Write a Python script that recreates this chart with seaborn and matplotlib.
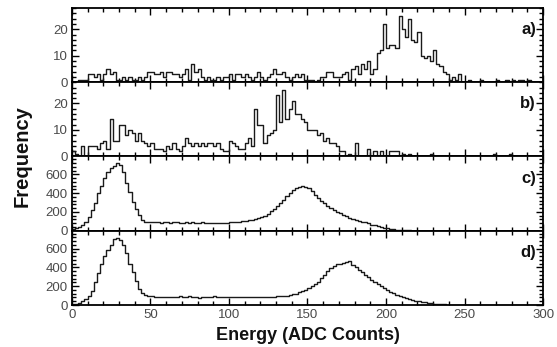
import numpy as np
import pandas as pd
import matplotlib
matplotlib.use("Agg")
import matplotlib.pyplot as plt
from matplotlib.ticker import MultipleLocator
import seaborn as sns

# ---- data: histogram counts, bins of width 2 ADC counts from 0 to 300 ----
bin_width = 2
energy_min, energy_max = 0, 300

counts_a = [
    0, 0, 1, 1, 1, 3, 3, 2, 3, 1,
    3, 5, 3, 4, 1, 1, 2, 1, 2, 1,
    1, 2, 1, 2, 4, 4, 3, 3, 4, 2,
    4, 4, 3, 3, 2, 3, 5, 1, 7, 4,
    5, 2, 1, 2, 1, 1, 2, 1, 2, 2,
    3, 1, 3, 3, 2, 3, 2, 1, 2, 4,
    2, 1, 2, 3, 5, 3, 3, 4, 2, 1,
    2, 3, 2, 3, 1, 1, 1, 0, 1, 2,
    2, 4, 4, 2, 2, 2, 3, 4, 1, 5,
    6, 3, 7, 5, 8, 3, 5, 11, 12, 22,
    13, 14, 14, 13, 25, 20, 17, 24, 16, 15,
    19, 10, 9, 10, 8, 12, 7, 6, 4, 3,
    1, 2, 1, 3, 0, 0, 1, 0, 0, 0,
    1, 0, 0, 0, 0, 1, 0, 0, 1, 0,
    1, 0, 1, 1, 0, 1, 0, 0, 0, 0,
]

counts_b = [
    2, 1, 0, 4, 0, 4, 4, 4, 3, 5,
    6, 3, 14, 6, 6, 12, 12, 8, 10, 9,
    6, 9, 6, 5, 4, 5, 3, 3, 3, 2,
    4, 3, 5, 3, 2, 4, 7, 5, 4, 5,
    4, 5, 4, 5, 5, 4, 5, 3, 2, 2,
    6, 5, 4, 3, 3, 5, 7, 4, 18, 12,
    12, 5, 8, 9, 10, 23, 13, 25, 14, 18,
    21, 16, 16, 14, 13, 10, 10, 10, 8, 9,
    6, 7, 5, 5, 4, 2, 2, 0, 1, 0,
    5, 0, 0, 0, 3, 0, 2, 0, 2, 0,
    0, 2, 2, 2, 0, 1, 0, 1, 0, 0,
    0, 0, 0, 0, 1, 0, 0, 0, 0, 0,
    0, 0, 0, 0, 0, 0, 0, 0, 0, 0,
    0, 0, 0, 0, 1, 0, 0, 0, 0, 1,
    0, 0, 0, 0, 0, 0, 0, 0, 0, 0,
]

counts_c = [
    15, 25, 40, 60, 95, 150, 220, 300, 400, 480,
    560, 630, 670, 690, 720, 700, 620, 510, 410, 310,
    230, 165, 115, 98, 92, 90, 88, 92, 85, 88,
    95, 84, 88, 90, 82, 86, 90, 84, 88, 80,
    85, 90, 82, 86, 80, 84, 82, 86, 80, 84,
    88, 92, 90, 95, 100, 106, 112, 118, 125, 135,
    145, 160, 180, 205, 235, 265, 295, 330, 370, 400,
    430, 458, 470, 478, 462, 450, 420, 385, 350, 315,
    290, 265, 240, 220, 200, 185, 168, 155, 140, 128,
    118, 108, 98, 88, 78, 66, 56, 46, 38, 30,
    24, 19, 15, 12, 9, 6, 5, 3, 2, 2,
    1, 1, 0, 0, 0, 0, 0, 0, 0, 0,
    0, 0, 0, 0, 0, 0, 0, 0, 0, 0,
    0, 0, 0, 0, 0, 0, 0, 0, 0, 0,
    0, 0, 0, 0, 0, 0, 0, 0, 0, 0,
]

counts_d = [
    10, 15, 25, 40, 60, 95, 150, 240, 340, 440,
    520, 580, 640, 700, 710, 690, 640, 550, 440, 350,
    260, 170, 125, 108, 98, 92, 88, 90, 85, 88,
    86, 90, 84, 88, 92, 86, 88, 95, 84, 88,
    78, 86, 90, 82, 88, 92, 85, 84, 88, 82,
    86, 90, 88, 84, 86, 85, 88, 84, 86, 88,
    85, 88, 86, 90, 88, 92, 95, 98, 100, 108,
    112, 120, 135, 148, 162, 180, 200, 225, 250, 285,
    320, 360, 395, 420, 435, 440, 448, 455, 470, 430,
    400, 375, 350, 322, 295, 268, 245, 222, 200, 178,
    158, 140, 123, 110, 98, 86, 74, 64, 55, 48,
    42, 36, 32, 26, 20, 16, 12, 9, 6, 5,
    3, 2, 2, 1, 1, 0, 0, 0, 0, 0,
    0, 0, 0, 0, 0, 0, 0, 0, 0, 0,
    0, 0, 0, 0, 0, 0, 0, 0, 0, 0,
]

panel_labels = ["a)", "b)", "c)", "d)"]
panel_counts = [counts_a, counts_b, counts_c, counts_d]
panel_ylims = [28, 28, 790, 790]
panel_yticks = [[0, 10, 20], [0, 10, 20], [0, 200, 400, 600], [0, 200, 400, 600]]
panel_yminor = [2, 2, 40, 40]
x_ticks = [0, 50, 100, 150, 200, 250, 300]

# ---- plotting ----
sns.set_theme(style="ticks")
plt.rcParams["font.family"] = ["Liberation Sans", "DejaVu Sans"]

n_bins = (energy_max - energy_min) // bin_width
centers = [energy_min + bin_width * (i + 0.5) for i in range(n_bins)]

fig, axes = plt.subplots(4, 1, figsize=(5.57, 3.47), dpi=100, sharex=True)
fig.subplots_adjust(left=0.129, right=0.975, top=0.977, bottom=0.121, hspace=0)

for ax, lab, cnt, ymax, yt, ymin_step in zip(
    axes, panel_labels, panel_counts, panel_ylims, panel_yticks, panel_yminor
):
    df = pd.DataFrame({"energy": centers, "count": [float(c) for c in cnt]})
    sns.histplot(
        data=df, x="energy", weights="count",
        binwidth=bin_width, binrange=(energy_min, energy_max),
        element="step", fill=False, color="#1a1a1a", linewidth=1.0, ax=ax,
    )
    ax.set_xlim(energy_min, energy_max)
    ax.set_ylim(0, ymax)
    ax.set_yticks(yt)
    ax.yaxis.set_minor_locator(MultipleLocator(ymin_step))
    ax.set_xticks(x_ticks)
    ax.xaxis.set_minor_locator(MultipleLocator(10))
    ax.set_xlabel("")
    ax.set_ylabel("")
    ax.tick_params(which="both", direction="in", top=True, right=True,
                   width=1, color="black", labelsize=9.5, labelcolor="#4a4a4a", pad=3)
    ax.tick_params(which="major", length=5)
    ax.tick_params(which="minor", length=3)
    for s in ax.spines.values():
        s.set_linewidth(1.3)
        s.set_color("black")
    ax.text(0.985, 0.71, lab, transform=ax.transAxes, ha="right", va="center",
            fontsize=12, fontweight="bold", color="#111111")

axes[-1].set_xlabel("Energy (ADC Counts)", fontsize=13, fontweight="bold",
                    color="#111111", labelpad=4)
fig.text(0.04, 0.55, "Frequency", rotation=90, ha="center", va="center",
         fontsize=14.5, fontweight="bold", color="#111111")

fig.savefig("out.png", dpi=100)
